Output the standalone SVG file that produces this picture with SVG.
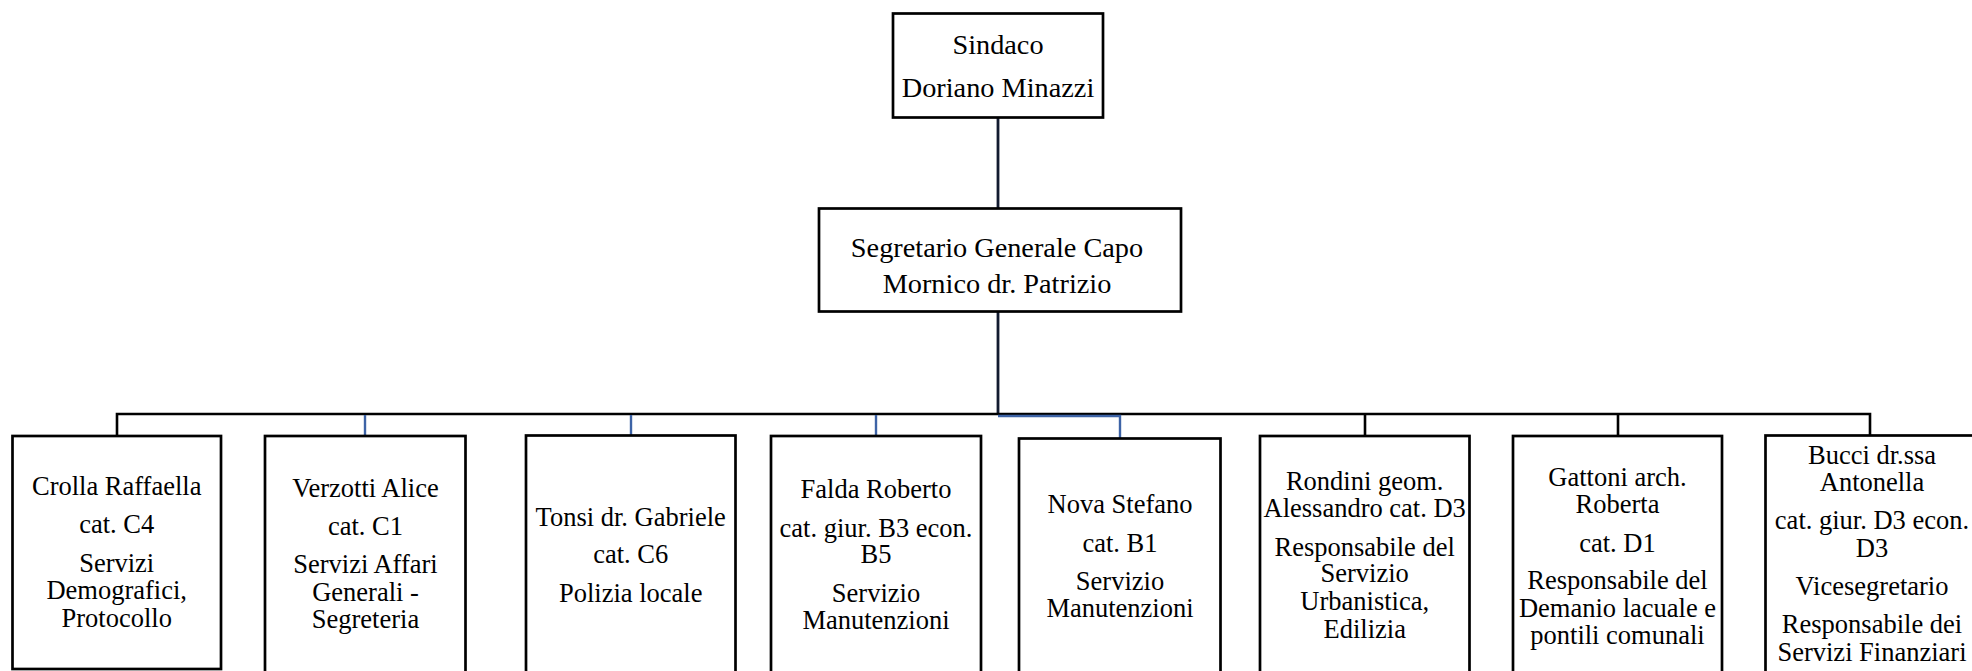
<svg xmlns="http://www.w3.org/2000/svg" width="1972" height="671" viewBox="0 0 1972 671">
<style>
.box{fill:#fff;stroke:#000;stroke-width:2.7}
.t{font-family:'Liberation Serif','Times New Roman',serif;font-size:26.5px;fill:#000;text-anchor:middle}
.tt{font-family:'Liberation Serif','Times New Roman',serif;font-size:28.3px;fill:#000;text-anchor:middle}
.c{fill:none;stroke:#000;stroke-width:2.6}
.cn{fill:none;stroke:#121b30;stroke-width:2.8}
.cb{fill:none;stroke:#3d63a6;stroke-width:2.4}
</style>
<rect width="1972" height="671" fill="#fff"/>
<g id="connectors">
<line class="cn" x1="998" y1="118" x2="998" y2="208"/>
<line class="cn" x1="998" y1="312" x2="998" y2="415"/>
<polyline class="c" points="117,436 117,414 1870,414 1870,436"/>
<line class="c" x1="1365" y1="414" x2="1365" y2="436"/>
<line class="c" x1="1618" y1="414" x2="1618" y2="436"/>
<line class="cb" x1="365" y1="415" x2="365" y2="436"/>
<line class="cb" x1="631" y1="415" x2="631" y2="435"/>
<line class="cb" x1="876" y1="415" x2="876" y2="436"/>
<polyline class="cb" points="998,416 1120,416 1120,438"/>
</g>
<g id="sindaco">
<rect class="box" x="893" y="13.5" width="210" height="104"/>
<text class="tt" x="998" y="54">Sindaco</text>
<text class="tt" x="998" y="96.7">Doriano Minazzi</text>
</g>
<g id="segretario">
<rect class="box" x="819" y="208.5" width="362" height="103"/>
<text class="tt" x="997" y="256.7">Segretario Generale Capo</text>
<text class="tt" x="997" y="293.3">Mornico dr. Patrizio</text>
</g>
<g id="crolla">
<rect class="box" x="12.5" y="436" width="208.5" height="233"/>
<text class="t" x="116.7" y="495">Crolla Raffaella</text>
<text class="t" x="116.7" y="533.3">cat. C4</text>
<text class="t" x="116.7" y="571.7">Servizi</text>
<text class="t" x="116.7" y="599">Demografici,</text>
<text class="t" x="116.7" y="626.7">Protocollo</text>
</g>
<g id="verzotti">
<rect class="box" x="265" y="436" width="200.5" height="240"/>
<text class="t" x="365.5" y="496.7">Verzotti Alice</text>
<text class="t" x="365.5" y="535">cat. C1</text>
<text class="t" x="365.5" y="573.3">Servizi Affari</text>
<text class="t" x="365.5" y="601">Generali -</text>
<text class="t" x="365.5" y="627.7">Segreteria</text>
</g>
<g id="tonsi">
<rect class="box" x="526" y="435.5" width="209.5" height="240"/>
<text class="t" x="630.7" y="526">Tonsi dr. Gabriele</text>
<text class="t" x="630.7" y="563.3">cat. C6</text>
<text class="t" x="630.7" y="601.7">Polizia locale</text>
</g>
<g id="falda">
<rect class="box" x="771" y="436" width="210" height="240"/>
<text class="t" x="876" y="498.3">Falda Roberto</text>
<text class="t" x="876" y="536.7">cat. giur. B3 econ.</text>
<text class="t" x="876" y="563.3">B5</text>
<text class="t" x="876" y="601.7">Servizio</text>
<text class="t" x="876" y="629.3">Manutenzioni</text>
</g>
<g id="nova">
<rect class="box" x="1019" y="438.5" width="201.5" height="240"/>
<text class="t" x="1120" y="512.7">Nova Stefano</text>
<text class="t" x="1120" y="551.7">cat. B1</text>
<text class="t" x="1120" y="590">Servizio</text>
<text class="t" x="1120" y="617.3">Manutenzioni</text>
</g>
<g id="rondini">
<rect class="box" x="1260" y="436" width="209.5" height="240"/>
<text class="t" x="1364.7" y="490">Rondini geom.</text>
<text class="t" x="1364.7" y="516.7">Alessandro cat. D3</text>
<text class="t" x="1364.7" y="555.7">Responsabile del</text>
<text class="t" x="1364.7" y="582.3">Servizio</text>
<text class="t" x="1364.7" y="610">Urbanistica,</text>
<text class="t" x="1364.7" y="637.7">Edilizia</text>
</g>
<g id="gattoni">
<rect class="box" x="1513" y="436" width="209" height="240"/>
<text class="t" x="1617.5" y="486">Gattoni arch.</text>
<text class="t" x="1617.5" y="512.7">Roberta</text>
<text class="t" x="1617.5" y="551.7">cat. D1</text>
<text class="t" x="1617.5" y="589.3">Responsabile del</text>
<text class="t" x="1617.5" y="616.7">Demanio lacuale e</text>
<text class="t" x="1617.5" y="644">pontili comunali</text>
</g>
<g id="bucci">
<rect class="box" x="1765.5" y="435.5" width="215" height="240"/>
<text class="t" x="1872" y="464">Bucci dr.ssa</text>
<text class="t" x="1872" y="490.7">Antonella</text>
<text class="t" x="1872" y="529.3">cat. giur. D3 econ.</text>
<text class="t" x="1872" y="556.7">D3</text>
<text class="t" x="1872" y="595">Vicesegretario</text>
<text class="t" x="1872" y="633.3">Responsabile dei</text>
<text class="t" x="1872" y="661">Servizi Finanziari</text>
</g>
</svg>
